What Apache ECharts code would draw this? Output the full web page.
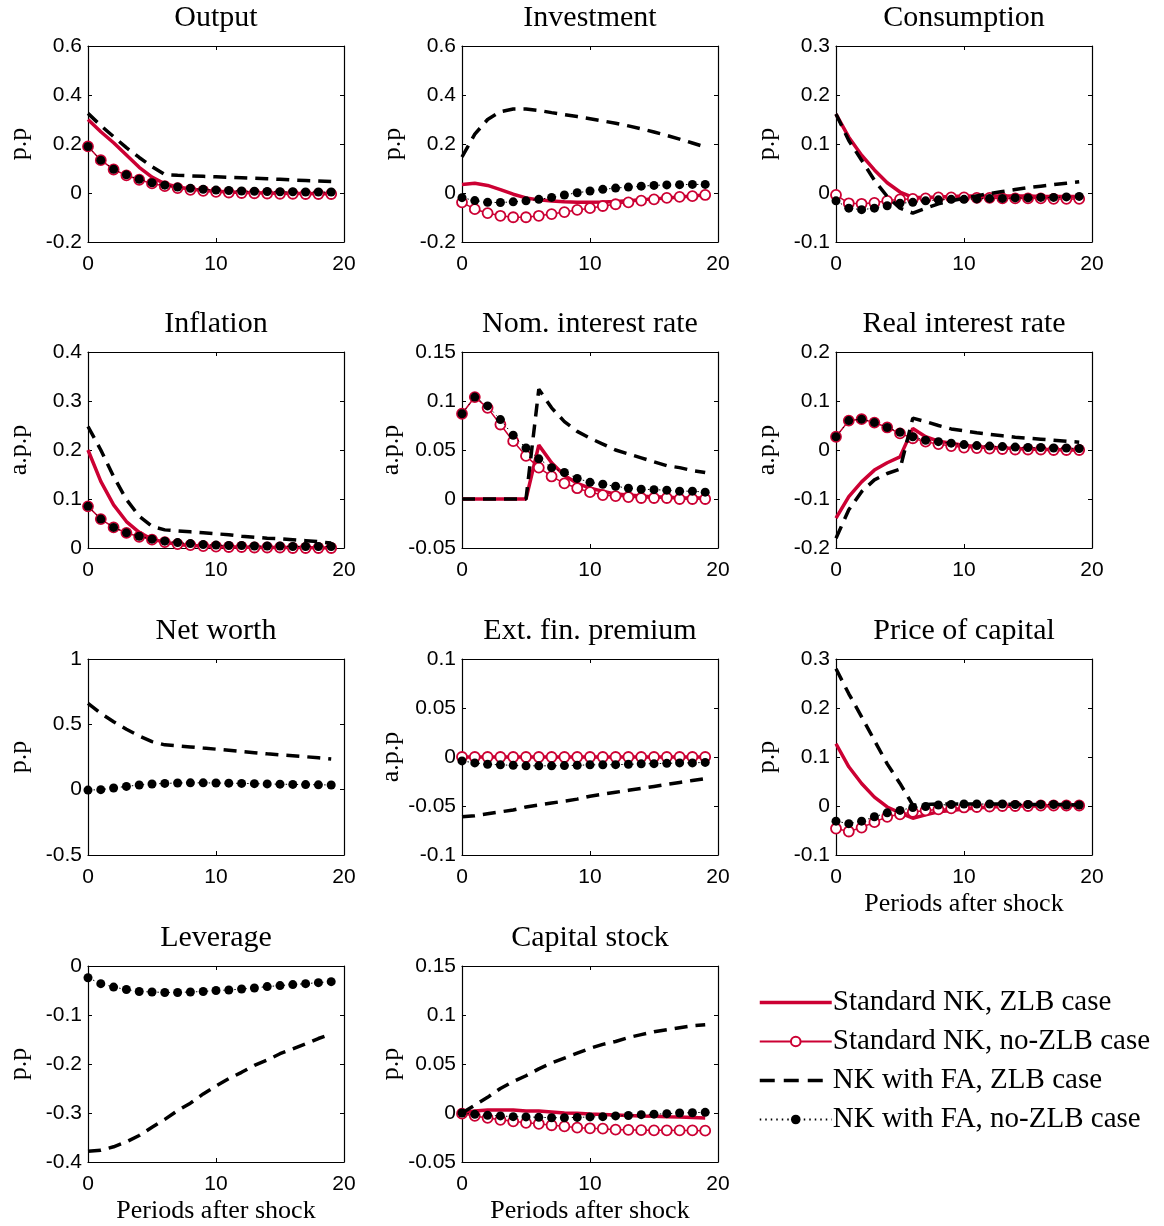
<!DOCTYPE html>
<html>
<head>
<meta charset="utf-8">
<script src="https://cdn.jsdelivr.net/npm/echarts@6/dist/echarts.min.js"></script>
<style>
  html, body { margin: 0; padding: 0; background: #fff; }
  #chart { width: 1164px; height: 1226px; }
</style>
</head>
<body>
<div id="chart"></div>
<script>
  // periods after the shock
  const periods = [0, 1, 2, 3, 4, 5, 6, 7, 8, 9, 10, 11, 12, 13, 14, 15, 16, 17, 18, 19];

  const seriesNames = ['Standard NK, ZLB case', 'Standard NK, no-ZLB case', 'NK with FA, ZLB case', 'NK with FA, no-ZLB case'];

  // Output
  const outputSnkZlb = [0.30, 0.25, 0.205, 0.155, 0.105, 0.065, 0.038, 0.025, 0.016, 0.01, 0.007, 0.004, 0.002, 0.001, 0, -0.001, -0.002, -0.002, -0.003, -0.003];
  const outputSnkNoZlb = [0.19, 0.134, 0.096, 0.072, 0.054, 0.039, 0.028, 0.02, 0.013, 0.009, 0.005, 0.002, 0, -0.001, -0.002, -0.003, -0.003, -0.004, -0.004, -0.004];
  const outputFaZlb = [0.325, 0.275, 0.23, 0.185, 0.145, 0.108, 0.075, 0.072, 0.07, 0.068, 0.066, 0.064, 0.062, 0.06, 0.058, 0.056, 0.053, 0.051, 0.049, 0.047];
  const outputFaNoZlb = [0.19, 0.134, 0.097, 0.074, 0.056, 0.042, 0.032, 0.024, 0.019, 0.015, 0.012, 0.01, 0.008, 0.007, 0.006, 0.005, 0.005, 0.004, 0.004, 0.004];

  // Investment
  const investSnkZlb = [0.035, 0.04, 0.031, 0.014, -0.005, -0.02, -0.028, -0.033, -0.036, -0.038, -0.038, -0.037, -0.035, -0.032, -0.028, -0.024, -0.02, -0.016, -0.012, -0.008];
  const investSnkNoZlb = [-0.038, -0.066, -0.082, -0.093, -0.099, -0.099, -0.093, -0.086, -0.078, -0.069, -0.062, -0.053, -0.046, -0.038, -0.031, -0.026, -0.02, -0.016, -0.013, -0.008];
  const investFaZlb = [0.147, 0.24, 0.30, 0.332, 0.343, 0.343, 0.337, 0.328, 0.32, 0.312, 0.303, 0.294, 0.285, 0.274, 0.262, 0.249, 0.235, 0.22, 0.204, 0.188];
  const investFaNoZlb = [-0.019, -0.031, -0.038, -0.039, -0.036, -0.032, -0.026, -0.018, -0.008, 0.001, 0.008, 0.015, 0.02, 0.024, 0.028, 0.031, 0.033, 0.034, 0.035, 0.035];

  // Consumption
  const consSnkZlb = [0.161, 0.114, 0.077, 0.047, 0.021, 0.002, -0.009, -0.009, -0.008, -0.007, -0.006, -0.006, -0.006, -0.006, -0.006, -0.006, -0.007, -0.007, -0.007, -0.007];
  const consSnkNoZlb = [-0.004, -0.021, -0.022, -0.02, -0.016, -0.013, -0.012, -0.011, -0.009, -0.009, -0.009, -0.01, -0.01, -0.011, -0.011, -0.011, -0.011, -0.012, -0.012, -0.012];
  const consFaZlb = [0.161, 0.107, 0.067, 0.026, -0.007, -0.031, -0.041, -0.031, -0.022, -0.016, -0.011, -0.006, -0.001, 0.003, 0.007, 0.011, 0.014, 0.017, 0.02, 0.023];
  const consFaNoZlb = [-0.016, -0.031, -0.034, -0.031, -0.026, -0.021, -0.019, -0.016, -0.014, -0.013, -0.013, -0.012, -0.011, -0.011, -0.01, -0.01, -0.009, -0.009, -0.008, -0.007];

  // Inflation
  const inflSnkZlb = [0.2, 0.136, 0.088, 0.054, 0.032, 0.018, 0.012, 0.007, 0.005, 0.004, 0.003, 0.002, 0.002, 0.001, 0.001, 0.001, 0.001, 0.001, 0, 0];
  const inflSnkNoZlb = [0.085, 0.059, 0.042, 0.031, 0.023, 0.017, 0.012, 0.008, 0.006, 0.004, 0.003, 0.002, 0.002, 0.001, 0.001, 0.001, 0, 0, 0, 0];
  const inflFaZlb = [0.248, 0.2, 0.146, 0.099, 0.065, 0.044, 0.037, 0.035, 0.033, 0.031, 0.029, 0.027, 0.024, 0.022, 0.02, 0.019, 0.017, 0.015, 0.013, 0.01];
  const inflFaNoZlb = [0.085, 0.059, 0.042, 0.031, 0.024, 0.018, 0.014, 0.011, 0.009, 0.007, 0.006, 0.005, 0.005, 0.004, 0.004, 0.004, 0.003, 0.003, 0.003, 0.003];

  // Nom. interest rate
  const nomSnkZlb = [0, 0, 0, 0, 0, 0, 0.055, 0.037, 0.024, 0.016, 0.011, 0.008, 0.005, 0.004, 0.003, 0.002, 0.002, 0.001, 0.001, 0.001];
  const nomSnkNoZlb = [0.087, 0.104, 0.093, 0.076, 0.059, 0.044, 0.032, 0.023, 0.016, 0.011, 0.007, 0.004, 0.003, 0.002, 0.001, 0.001, 0.001, 0, 0, 0];
  const nomFaZlb = [0, 0, 0, 0, 0, 0, 0.112, 0.093, 0.079, 0.069, 0.062, 0.056, 0.05, 0.046, 0.042, 0.038, 0.034, 0.032, 0.029, 0.027];
  const nomFaNoZlb = [0.087, 0.104, 0.095, 0.081, 0.065, 0.052, 0.041, 0.032, 0.027, 0.021, 0.017, 0.015, 0.013, 0.011, 0.01, 0.0095, 0.009, 0.008, 0.008, 0.007];

  // Real interest rate
  const realSnkZlb = [-0.139, -0.095, -0.065, -0.041, -0.026, -0.014, 0.044, 0.027, 0.018, 0.014, 0.009, 0.007, 0.005, 0.004, 0.003, 0.002, 0.001, 0.001, 0, 0];
  const realSnkNoZlb = [0.027, 0.06, 0.063, 0.056, 0.046, 0.034, 0.024, 0.017, 0.012, 0.008, 0.005, 0.004, 0.003, 0.002, 0.001, 0.001, 0.001, 0, 0, 0];
  const realFaZlb = [-0.18, -0.122, -0.085, -0.061, -0.048, -0.039, 0.065, 0.058, 0.05, 0.043, 0.039, 0.035, 0.032, 0.029, 0.026, 0.024, 0.022, 0.02, 0.018, 0.016];
  const realFaNoZlb = [0.027, 0.06, 0.063, 0.056, 0.046, 0.036, 0.027, 0.02, 0.017, 0.014, 0.011, 0.009, 0.008, 0.007, 0.006, 0.005, 0.005, 0.004, 0.004, 0.003];

  // Net worth (no standard NK response)
  const nwSnkZlb = [];
  const nwSnkNoZlb = [];
  const nwFaZlb = [0.66, 0.584, 0.52, 0.462, 0.411, 0.368, 0.343, 0.335, 0.327, 0.318, 0.31, 0.301, 0.292, 0.283, 0.274, 0.266, 0.259, 0.252, 0.244, 0.234];
  const nwFaNoZlb = [-0.003, 0, 0.013, 0.025, 0.036, 0.043, 0.048, 0.051, 0.052, 0.052, 0.051, 0.05, 0.048, 0.046, 0.044, 0.042, 0.04, 0.039, 0.037, 0.036];

  // Ext. fin. premium
  const efpSnkZlb = [0, 0, 0, 0, 0, 0, 0, 0, 0, 0, 0, 0, 0, 0, 0, 0, 0, 0, 0, 0];
  const efpSnkNoZlb = [0, 0, 0, 0, 0, 0, 0, 0, 0, 0, 0, 0, 0, 0, 0, 0, 0, 0, 0, 0];
  const efpFaZlb = [-0.061, -0.06, -0.058, -0.056, -0.054, -0.051, -0.049, -0.047, -0.045, -0.043, -0.04, -0.038, -0.036, -0.034, -0.032, -0.03, -0.028, -0.026, -0.024, -0.022];
  const efpFaNoZlb = [-0.004, -0.006, -0.0075, -0.008, -0.0085, -0.009, -0.009, -0.009, -0.0088, -0.0085, -0.008, -0.008, -0.0078, -0.0075, -0.007, -0.0068, -0.0065, -0.006, -0.006, -0.0055];

  // Price of capital
  const qSnkZlb = [0.127, 0.08, 0.046, 0.018, -0.002, -0.014, -0.025, -0.018, -0.012, -0.009, -0.006, -0.004, -0.002, -0.001, 0, 0, 0, 0.001, 0.001, 0.001];
  const qSnkNoZlb = [-0.046, -0.052, -0.044, -0.033, -0.022, -0.017, -0.012, -0.009, -0.007, -0.005, -0.003, -0.002, -0.001, 0, 0, 0, 0.001, 0.001, 0.001, 0.001];
  const qFaZlb = [0.28, 0.229, 0.182, 0.134, 0.086, 0.046, 0.002, 0.003, 0.004, 0.004, 0.004, 0.004, 0.004, 0.004, 0.003, 0.003, 0.003, 0.003, 0.003, 0.002];
  const qFaNoZlb = [-0.031, -0.036, -0.031, -0.022, -0.014, -0.009, -0.003, -0.001, 0.002, 0.003, 0.004, 0.004, 0.004, 0.004, 0.003, 0.003, 0.003, 0.003, 0.002, 0.002];

  // Leverage (no standard NK response)
  const levSnkZlb = [];
  const levSnkNoZlb = [];
  const levFaZlb = [-0.378, -0.376, -0.369, -0.359, -0.346, -0.329, -0.313, -0.295, -0.28, -0.261, -0.245, -0.23, -0.217, -0.203, -0.192, -0.179, -0.169, -0.159, -0.148, -0.139];
  const levFaNoZlb = [-0.024, -0.036, -0.043, -0.048, -0.052, -0.053, -0.054, -0.054, -0.053, -0.052, -0.05, -0.049, -0.047, -0.045, -0.042, -0.04, -0.038, -0.036, -0.034, -0.032];

  // Capital stock
  const kSnkZlb = [0, 0.002, 0.003, 0.003, 0.003, 0.002, 0.002, 0.001, 0, -0.0003, -0.001, -0.0015, -0.002, -0.0025, -0.003, -0.0033, -0.0037, -0.004, -0.0045, -0.005];
  const kSnkNoZlb = [-0.0007, -0.003, -0.005, -0.007, -0.0085, -0.01, -0.011, -0.0125, -0.0136, -0.015, -0.0156, -0.016, -0.017, -0.0172, -0.0175, -0.0177, -0.0177, -0.0178, -0.0178, -0.018];
  const kFaZlb = [0, 0.008, 0.016, 0.025, 0.032, 0.038, 0.045, 0.051, 0.056, 0.061, 0.066, 0.07, 0.073, 0.077, 0.08, 0.083, 0.085, 0.087, 0.089, 0.09];
  const kFaNoZlb = [0, -0.0014, -0.0024, -0.003, -0.0037, -0.004, -0.0044, -0.0048, -0.0048, -0.0045, -0.004, -0.0037, -0.003, -0.0025, -0.0017, -0.0012, -0.0007, 0, 0.0003, 0.0007];

  // y axis ranges: [min, max, interval]
  const panels = [
    {title: 'Output', unit: 'p.p', y: [-0.2, 0.6, 0.2], data: [outputSnkZlb, outputSnkNoZlb, outputFaZlb, outputFaNoZlb]},
    {title: 'Investment', unit: 'p.p', y: [-0.2, 0.6, 0.2], data: [investSnkZlb, investSnkNoZlb, investFaZlb, investFaNoZlb]},
    {title: 'Consumption', unit: 'p.p', y: [-0.1, 0.3, 0.1], data: [consSnkZlb, consSnkNoZlb, consFaZlb, consFaNoZlb]},
    {title: 'Inflation', unit: 'a.p.p', y: [0, 0.4, 0.1], data: [inflSnkZlb, inflSnkNoZlb, inflFaZlb, inflFaNoZlb]},
    {title: 'Nom. interest rate', unit: 'a.p.p', y: [-0.05, 0.15, 0.05], data: [nomSnkZlb, nomSnkNoZlb, nomFaZlb, nomFaNoZlb]},
    {title: 'Real interest rate', unit: 'a.p.p', y: [-0.2, 0.2, 0.1], data: [realSnkZlb, realSnkNoZlb, realFaZlb, realFaNoZlb]},
    {title: 'Net worth', unit: 'p.p', y: [-0.5, 1, 0.5], data: [nwSnkZlb, nwSnkNoZlb, nwFaZlb, nwFaNoZlb]},
    {title: 'Ext. fin. premium', unit: 'a.p.p', y: [-0.1, 0.1, 0.05], data: [efpSnkZlb, efpSnkNoZlb, efpFaZlb, efpFaNoZlb]},
    {title: 'Price of capital', unit: 'p.p', y: [-0.1, 0.3, 0.1], data: [qSnkZlb, qSnkNoZlb, qFaZlb, qFaNoZlb], xName: true},
    {title: 'Leverage', unit: 'p.p', y: [-0.4, 0, 0.1], data: [levSnkZlb, levSnkNoZlb, levFaZlb, levFaNoZlb], xName: true},
    {title: 'Capital stock', unit: 'p.p', y: [-0.05, 0.15, 0.05], data: [kSnkZlb, kSnkNoZlb, kFaZlb, kFaNoZlb], xName: true}
  ];

  const RED = '#cc0033';
  const serif = '"Liberation Serif", "DejaVu Serif", serif';
  const sans = '"Liberation Sans", Arial, sans-serif';

  // layout of the 4x3 grid
  const colLeft = [88, 462, 836];
  const rowTop = [46, 352, 659, 966];
  const boxW = 256, boxH = 196;

  const seriesStyle = [
    {symbol: 'none', lineStyle: {color: RED, width: 3.5}, itemStyle: {color: RED}},
    {symbol: 'circle', symbolSize: 10, lineStyle: {color: RED, width: 1.5},
      itemStyle: {color: '#fff', borderColor: RED, borderWidth: 1.8}},
    {symbol: 'none', lineStyle: {color: '#000', width: 3.5, type: [13, 8]}, itemStyle: {color: '#000'}},
    {symbol: 'circle', symbolSize: 9, lineStyle: {color: '#000', width: 1, type: [1.5, 4]},
      itemStyle: {color: '#000'}}
  ];

  const fmt = v => String(+v.toFixed(3));
  const option = {
    animation: false,
    backgroundColor: '#fff',
    title: [], grid: [], xAxis: [], yAxis: [], series: [],
    legend: {
      data: [
        {name: seriesNames[0], itemStyle: {opacity: 0}, lineStyle: {width: 3.5}},
        {name: seriesNames[1]},
        {name: seriesNames[2], itemStyle: {opacity: 0}, lineStyle: {width: 3.5, type: [15, 9]}},
        {name: seriesNames[3]}
      ],
      orient: 'vertical',
      left: 753,
      top: 983,
      itemWidth: 72,
      itemHeight: 12,
      itemGap: 10,
      selectedMode: false,
      textStyle: {fontFamily: serif, fontSize: 29, color: '#000', lineHeight: 29, padding: [0, 0, 0, -4]}
    }
  };

  panels.forEach((p, i) => {
    const left = colLeft[i % 3], top = rowTop[Math.floor(i / 3)];
    option.title.push({
      text: p.title, left: left + boxW / 2, top: top - 43, textAlign: 'center', padding: 0,
      textStyle: {fontFamily: serif, fontSize: 30, fontWeight: 'normal', color: '#000'}
    });
    option.grid.push({left: left, top: top, width: boxW, height: boxH});
    const tick = {show: true, inside: true, length: 4, lineStyle: {color: '#000', width: 1}};
    const line = {show: true, onZero: false, lineStyle: {color: '#000', width: 1.2}};
    option.xAxis.push({
      type: 'value', gridIndex: i, min: 0, max: 20, interval: 10, position: 'bottom',
      axisLine: line, axisTick: tick, splitLine: {show: false},
      axisLabel: {margin: 12, fontFamily: sans, fontSize: 21, color: '#000'},
      name: p.xName ? 'Periods after shock' : '', nameLocation: 'middle', nameGap: 36,
      nameTextStyle: {fontFamily: serif, fontSize: 26, color: '#000'}
    });
    option.xAxis.push({
      type: 'value', gridIndex: i, min: 0, max: 20, interval: 10, position: 'top',
      axisLine: line, axisTick: tick, splitLine: {show: false}, axisLabel: {show: false}
    });
    option.yAxis.push({
      type: 'value', gridIndex: i, min: p.y[0], max: p.y[1], interval: p.y[2], position: 'left',
      axisLine: line, axisTick: tick, splitLine: {show: false},
      axisLabel: {margin: 6, fontFamily: sans, fontSize: 21, color: '#000', formatter: fmt},
      name: p.unit, nameLocation: 'middle', nameGap: 56, nameRotate: 90,
      nameTextStyle: {fontFamily: serif, fontSize: 26, color: '#000'}
    });
    option.yAxis.push({
      type: 'value', gridIndex: i, min: p.y[0], max: p.y[1], interval: p.y[2], position: 'right',
      axisLine: line, axisTick: tick, splitLine: {show: false}, axisLabel: {show: false}
    });
    p.data.forEach((vals, s) => {
      option.series.push(Object.assign({
        type: 'line', name: seriesNames[s], xAxisIndex: 2 * i, yAxisIndex: 2 * i,
        data: vals.map((v, k) => [periods[k], v]),
        z: 2 + s, emphasis: {disabled: true}
      }, seriesStyle[s]));
    });
  });

  const chart = echarts.init(document.getElementById('chart'));
  chart.setOption(option);
</script>
</body>
</html>
